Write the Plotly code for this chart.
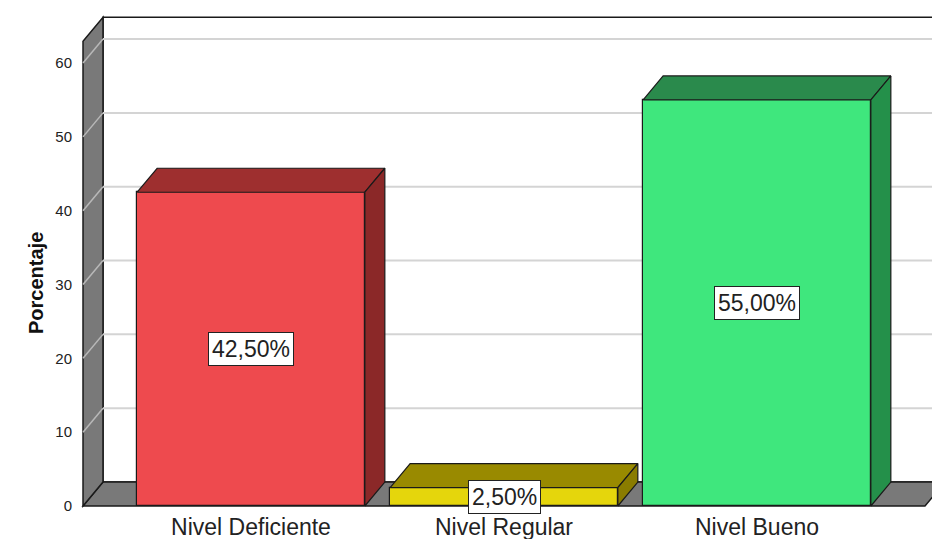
import plotly.graph_objects as go

# ---- data ----
categories = ["Nivel Deficiente", "Nivel Regular", "Nivel Bueno"]
percentages = [42.5, 2.5, 55.0]
value_labels = ["42,50%", "2,50%", "55,00%"]
y_ticks = [0, 10, 20, 30, 40, 50, 60]

# ---- styles ----
front_colors = ["#EE4A4E", "#E5D60C", "#3FE77D"]
top_colors = ["#9E2F2F", "#998A00", "#2A8A4C"]
side_colors = ["#8B2828", "#8A7C00", "#24904A"]
edge = "#1a1a1a"
wall_grey = "#797979"
font_family = "Liberation Sans, Arial"
bar_w = 0.9
dx = 0.079      # depth offset in category units
dy = 3.25       # depth offset in value units
x_left = -0.664
x_floor_right = 2.664
wall_top = 66.2
x_range = [-0.6759, 2.6917]
y_range = [-0.406, 68.54]

fig = go.Figure()

shapes = []
# back wall
shapes.append(dict(type="path", xref="x", yref="y", layer="below",
                   path=f"M{x_left+dx},{dy} L{x_range[1]+1},{dy} L{x_range[1]+1},{wall_top} L{x_left+dx},{wall_top} Z",
                   fillcolor="white", line=dict(color=edge, width=1.5)))
# floor
shapes.append(dict(type="path", xref="x", yref="y", layer="below",
                   path=f"M{x_left},0 L{x_floor_right},0 L{x_floor_right+dx},{dy} L{x_left+dx},{dy} Z",
                   fillcolor=wall_grey, line=dict(color=edge, width=1.5)))
# left wall
shapes.append(dict(type="path", xref="x", yref="y", layer="below",
                   path=f"M{x_left},0 L{x_left+dx},{dy} L{x_left+dx},{wall_top} L{x_left},{wall_top-dy} Z",
                   fillcolor=wall_grey, line=dict(color=edge, width=1.5)))
# gridlines on back wall and left wall
for t in y_ticks[1:]:
    shapes.append(dict(type="line", xref="x", yref="y", layer="below",
                       x0=x_left+dx, x1=x_range[1]+1, y0=t+dy, y1=t+dy,
                       line=dict(color="#D4D4D4", width=2)))
    shapes.append(dict(type="line", xref="x", yref="y", layer="below",
                       x0=x_left, x1=x_left+dx, y0=t, y1=t+dy,
                       line=dict(color="#B8B8B8", width=1.5)))

# front faces
fig.add_trace(go.Bar(x=list(range(len(categories))), y=percentages, width=bar_w,
                     marker=dict(color=front_colors, line=dict(color=edge, width=1.2)),
                     hoverinfo="skip", showlegend=False))

# top and side faces
for i, v in enumerate(percentages):
    l, r = i - bar_w / 2, i + bar_w / 2
    fig.add_trace(go.Scatter(x=[l, l+dx, r+dx, r, l], y=[v, v+dy, v+dy, v, v],
                             fill="toself", fillcolor=top_colors[i], mode="lines",
                             line=dict(color=edge, width=1.2), hoverinfo="skip", showlegend=False))
    fig.add_trace(go.Scatter(x=[r, r+dx, r+dx, r, r], y=[0, dy, v+dy, v, 0],
                             fill="toself", fillcolor=side_colors[i], mode="lines",
                             line=dict(color=edge, width=1.2), hoverinfo="skip", showlegend=False))

annotations = []
for i, v in enumerate(percentages):
    annotations.append(dict(x=i, y=v / 2, xref="x", yref="y", text=value_labels[i],
                            showarrow=False, bgcolor="white", bordercolor="#222",
                            borderwidth=1, borderpad=3,
                            font=dict(family=font_family, size=23, color="#222")))
annotations.append(dict(x=0, y=0.444, xref="paper", yref="paper", xshift=-57,
                        text="<b>Porcentaje</b>", textangle=-90, showarrow=False,
                        font=dict(family=font_family, size=20, color="#111")))

fig.update_layout(
    width=932, height=539,
    margin=dict(l=80, r=0, t=0, b=30),
    paper_bgcolor="white", plot_bgcolor="white",
    shapes=shapes, annotations=annotations,
    xaxis=dict(range=x_range, tickvals=list(range(len(categories))), ticktext=categories,
               showgrid=False, zeroline=False, showline=False, ticks="",
               ticklabelstandoff=2,
               tickfont=dict(family=font_family, size=23, color="#222"),
               fixedrange=True),
    yaxis=dict(range=y_range, tickvals=y_ticks, showgrid=False, zeroline=False,
               showline=False, ticks="", ticklabelstandoff=7,
               tickfont=dict(family=font_family, size=15, color="#222"),
               fixedrange=True),
    bargap=0,
)

fig.write_html("out.html")
